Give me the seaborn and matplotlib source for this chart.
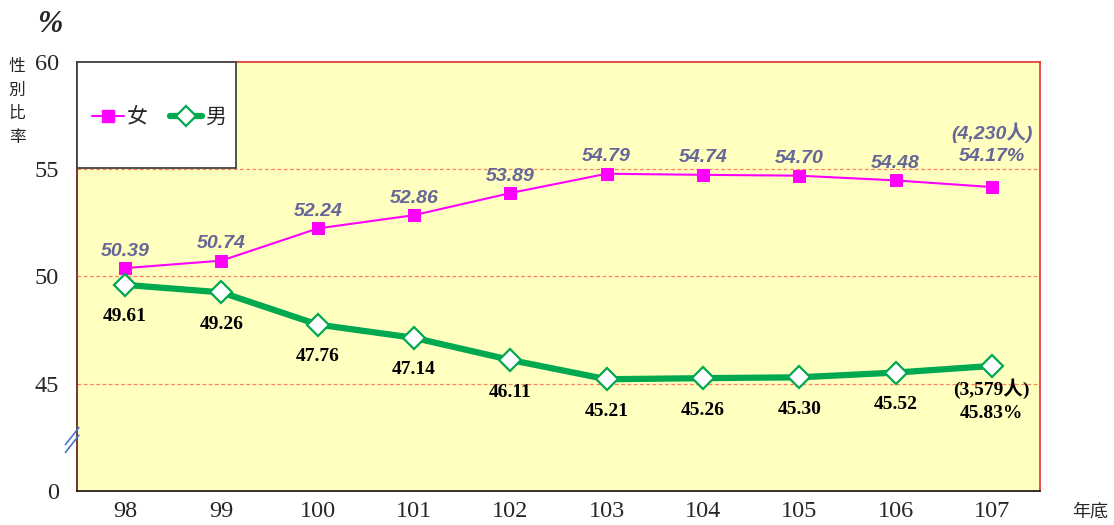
import matplotlib
matplotlib.use("Agg")
import matplotlib.pyplot as plt
import seaborn as sns
from matplotlib.patches import Rectangle
from matplotlib.lines import Line2D

years = ["98", "99", "100", "101", "102", "103", "104", "105", "106", "107"]
female = [50.39, 50.74, 52.24, 52.86, 53.89, 54.79, 54.74, 54.70, 54.48, 54.17]
male = [49.61, 49.26, 47.76, 47.14, 46.11, 45.21, 45.26, 45.30, 45.52, 45.83]
female_count = "(4,230人)"
male_count = "(3,579人)"
ytick_vals = [40, 45, 50, 55, 60]
ytick_labels = ["0", "45", "50", "55", "60"]

sns.set_style("white")
plt.rcParams["font.family"] = ["Liberation Serif", "Noto Sans CJK TC", "DejaVu Sans"]

fig = plt.figure(figsize=(11.14, 5.25), dpi=100)
ax = fig.add_axes([77/1114, 1-491/525, (1040-77)/1114, (491-62)/525])
ax.set_facecolor("#FFFFC0")

pink = "#FF00FF"
green = "#00A84F"
label_blue = "#666699"
sans = ["Liberation Sans", "Noto Sans CJK TC"]

sns.lineplot(x=years, y=female, ax=ax, color=pink, lw=1.5, marker="s", markersize=9,
             markeredgecolor=pink, sort=False, zorder=4)
sns.lineplot(x=years, y=male, ax=ax, color=green, lw=4.5, marker="D", markersize=11,
             markerfacecolor="white", markeredgecolor=green, markeredgewidth=1.6,
             sort=False, zorder=5)

ax.set_xlim(-0.5, 9.5)
ax.set_ylim(40, 60)
ax.set_yticks(ytick_vals)
ax.set_yticklabels(ytick_labels)
for g in [45, 50, 55]:
    ax.axhline(g, color="#FF8060", lw=0.9, ls=(0, (3, 2)), zorder=1)

ax.set_xticks(range(len(years)))
ax.set_xticklabels(years)
ax.set_xticks([i + 0.5 for i in range(len(years))], minor=True)
ax.tick_params(axis="x", which="major", length=0, pad=7, labelsize=17.5)
ax.tick_params(axis="x", which="minor", direction="in", length=6, width=1, color="#333333")
ax.tick_params(axis="y", which="major", direction="in", length=4, width=1, pad=13, labelsize=17.5, color="#333333")
ax.set_xlabel("")
ax.set_ylabel("")

ax.spines["top"].set_color("#E03030")
ax.spines["right"].set_color("#E03030")
ax.spines["left"].set_color("#661111")
ax.spines["bottom"].set_color("#111111")
for s in ax.spines.values():
    s.set_linewidth(1.2)
    s.set_visible(True)

# data labels
n = len(years)
for i in range(n):
    if i < n - 1:
        ax.annotate(f"{female[i]:.2f}", (i, female[i]), xytext=(0, 6), textcoords="offset points",
                    ha="center", va="bottom", fontsize=14, fontweight="bold", style="italic",
                    color=label_blue, family=sans)
        ax.annotate(f"{male[i]:.2f}", (i, male[i]), xytext=(0, -17), textcoords="offset points",
                    ha="center", va="top", fontsize=14, fontweight="bold", color="black")
    else:
        ax.annotate(f"{female_count}\n{female[i]:.2f}%", (i, female[i]), xytext=(0, 16),
                    textcoords="offset points", ha="center", va="bottom", fontsize=14,
                    fontweight="bold", style="italic", color=label_blue, linespacing=1.4,
                    family=sans)
        ax.annotate(f"{male_count}\n{male[i]:.2f}%", (i, male[i]), xytext=(0, -9),
                    textcoords="offset points", ha="center", va="top", fontsize=14,
                    fontweight="bold", color="black", linespacing=1.5,
                    family=["Liberation Serif", "Noto Sans CJK TC"])

# legend box
ax.add_patch(Rectangle((0, 1 - 106/429), 159/963, 106/429, transform=ax.transAxes,
                       facecolor="white", edgecolor="#444444", lw=1.3, zorder=8, clip_on=False))
handles = [Line2D([], [], color=pink, lw=1.5, marker="s", markersize=9),
           Line2D([], [], color=green, lw=4.5, marker="D", markersize=10,
                  markerfacecolor="white", markeredgecolor=green, markeredgewidth=1.6)]
leg = ax.legend(handles, ["女", "男"], loc="center", bbox_to_anchor=(82/963, 1 - 55/429),
                bbox_transform=ax.transAxes, ncol=2, frameon=False, handlelength=1.5,
                handletextpad=0.15, columnspacing=1.1, prop={"family": "Noto Sans CJK TC", "size": 15})
leg.set_zorder(9)

# axis break marks
for dy in (0, 0.018):
    ax.add_line(Line2D([-0.012, 0.002], [0.09 + dy, 0.13 + dy], transform=ax.transAxes,
                       color="#4477CC", lw=1.2, clip_on=False, zorder=10))

fig.text(50/1114, 1 - 25/525, "%", fontsize=22, style="italic", fontweight="bold",
         ha="center", va="center")
fig.text(17/1114, 1 - 102/525, "性\n別\n比\n率", fontsize=12, ha="center", va="center",
         family="Noto Sans CJK TC", linespacing=1.5)
fig.text(1090/1114, 1 - 512/525, "年底", fontsize=13, ha="center", va="center",
         family="Noto Sans CJK TC")

fig.savefig("out.png", dpi=100)
